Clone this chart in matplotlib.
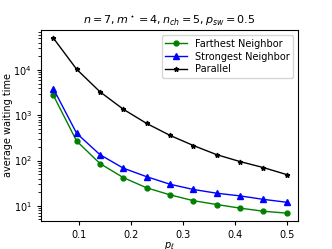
import matplotlib
matplotlib.use("Agg")
import matplotlib.pyplot as plt

p_l = [0.05, 0.095, 0.14, 0.185, 0.23, 0.275, 0.32, 0.365, 0.41, 0.455, 0.5]
farthest = [2780, 270, 86, 42, 25, 17.5, 13, 10.7, 8.9, 7.6, 6.9]
strongest = [3900, 400, 135, 68, 44, 30, 23, 19, 16.6, 13.9, 12]
parallel = [51000, 10400, 3300, 1360, 660, 360, 215, 135, 95, 70, 49]

plt.rcParams['font.size'] = 7
fig = plt.figure(figsize=(3.32, 2.49), dpi=100)
ax = fig.add_axes([0.123, 0.112, 0.775, 0.768])

ax.plot(p_l, farthest, color='green', marker='o', markersize=3.5, linewidth=1.0, label='Farthest Neighbor')
ax.plot(p_l, strongest, color='blue', marker='^', markersize=4, linewidth=1.0, label='Strongest Neighbor')
ax.plot(p_l, parallel, color='black', marker='*', markersize=3.5, linewidth=1.0, label='Parallel')

ax.set_yscale('log')
ax.set_xlim(0.026, 0.522)
ax.set_ylim(4.6, 77000)
ax.set_xticks([0.1, 0.2, 0.3, 0.4, 0.5])
ax.set_xlabel(r'$p_\ell$', labelpad=0)
ax.set_ylabel('average waiting time', labelpad=0)
ax.set_title(r'$n=7, m^\star=4, n_{ch}=5, p_{sw}=0.5$', fontsize=8, pad=4)
ax.tick_params(labelsize=7, length=3)
ax.legend(loc='upper right', fontsize=7, handlelength=2.2, borderpad=0.4, labelspacing=0.3)

fig.savefig('out.png', dpi=100)
